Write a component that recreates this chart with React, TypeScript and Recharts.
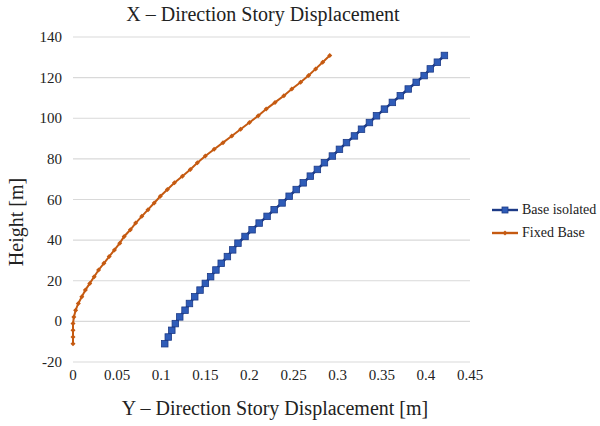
import React from "react";
import { LineChart, Line, XAxis, YAxis, CartesianGrid } from "recharts";

// story heights [m]
const HEIGHTS = [
  -11, -7.7, -4.4, -1.1, 2.2, 5.5, 8.8, 12.1, 15.4, 18.7, 22, 25.3, 28.6, 31.9, 35.2,
  38.5, 41.8, 45.1, 48.4, 51.7, 55, 58.3, 61.6, 64.9, 68.2, 71.5, 74.8, 78.1, 81.4,
  84.7, 88, 91.3, 94.6, 97.9, 101.2, 104.5, 107.8, 111.1, 114.4, 117.7, 121, 124.3,
  127.6, 130.9,
];

// displacement [m]
const BASE_ISOLATED = [
  0.104, 0.108, 0.112, 0.116, 0.121, 0.127, 0.132, 0.138, 0.144, 0.15, 0.156, 0.162,
  0.168, 0.175, 0.181, 0.187, 0.195, 0.203, 0.211, 0.22, 0.228, 0.237, 0.245, 0.253,
  0.261, 0.269, 0.277, 0.285, 0.294, 0.302, 0.31, 0.319, 0.327, 0.336, 0.344, 0.353,
  0.362, 0.371, 0.38, 0.389, 0.398, 0.405, 0.413, 0.421,
];

const FIXED_BASE = [
  0, 0, 0, 0, 0.001, 0.003, 0.006, 0.01, 0.014, 0.019, 0.024, 0.029, 0.035, 0.041,
  0.047, 0.053, 0.058, 0.065, 0.071, 0.078, 0.085, 0.092, 0.099, 0.107, 0.115, 0.124,
  0.133, 0.141, 0.15, 0.16, 0.17, 0.18, 0.19, 0.2, 0.21, 0.219, 0.229, 0.239, 0.248,
  0.258, 0.267, 0.275, 0.283, 0.291,
];

const X_TICKS = [0, 0.05, 0.1, 0.15, 0.2, 0.25, 0.3, 0.35, 0.4, 0.45];
const Y_TICKS = [-20, 0, 20, 40, 60, 80, 100, 120, 140];

const baseData = HEIGHTS.map((h, i) => ({ d: BASE_ISOLATED[i], h }));
const fixedData = HEIGHTS.map((h, i) => ({ d: FIXED_BASE[i], h }));

const FONT = "Liberation Serif";
const BLUE_LINE = "#1c3a86";
const BLUE_MARK = "#2f5cb8";
const ORANGE = "#c55a11";

const SquareDot = (p: any) => {
  if (p.cx == null || p.cy == null) return null;
  return <rect x={p.cx - 3.25} y={p.cy - 3.25} width={6.5} height={6.5} fill={BLUE_MARK} stroke={BLUE_LINE} strokeWidth={0.8} />;
};

const DiamondDot = (p: any) => {
  if (p.cx == null || p.cy == null) return null;
  const { cx, cy } = p;
  return <path d={`M${cx},${cy - 2.5}L${cx + 2.5},${cy}L${cx},${cy + 2.5}L${cx - 2.5},${cy}Z`} fill={ORANGE} />;
};

const renderXTick = (props: any) => (
  <text
    key={`x-${props.index}`}
    x={props.x}
    y={props.y + 14}
    textAnchor="middle"
    style={{ fontFamily: FONT, fontSize: 15, fill: "#222" }}
  >
    {props.payload.value}
  </text>
);

const renderYTick = (props: any) => (
  <text
    key={`y-${props.index}`}
    x={props.x}
    y={props.y + 5}
    textAnchor="end"
    style={{ fontFamily: FONT, fontSize: 15, fill: "#222" }}
  >
    {props.payload.value}
  </text>
);

const LEGEND_ITEMS = [
  { name: "Base isolated", c: BLUE_LINE, sq: true },
  { name: "Fixed Base", c: ORANGE, sq: false },
];

export default function App() {
  return (
    <div style={{ position: "absolute", left: 0, top: 0, width: 600, height: 426, background: "#fff" }}>
      <LineChart width={600} height={426} margin={{ top: 37, right: 130, bottom: 0, left: 0 }}>
        <CartesianGrid horizontal vertical={false} stroke="#d9d9d9" strokeWidth={1.2} />
        <XAxis
          type="number"
          dataKey="d"
          domain={[0, 0.45]}
          ticks={X_TICKS}
          height={64}
          axisLine={false}
          tickLine={false}
          tickSize={0}
          tickMargin={4}
          interval={0}
          tick={renderXTick}
        />
        <YAxis
          type="number"
          dataKey="h"
          domain={[-20, 140]}
          ticks={Y_TICKS}
          width={73}
          axisLine={false}
          tickLine={false}
          tickSize={0}
          tickMargin={11}
          interval={0}
          tick={renderYTick}
        />
        <Line
          data={baseData}
          dataKey="h"
          name="Base isolated"
          stroke={BLUE_LINE}
          strokeWidth={2.5}
          dot={<SquareDot />}
          isAnimationActive={false}
        />
        <Line
          data={fixedData}
          dataKey="h"
          name="Fixed Base"
          stroke={ORANGE}
          strokeWidth={2}
          dot={<DiamondDot />}
          isAnimationActive={false}
        />
      </LineChart>

      {/* legend */}
      <div style={{ position: "absolute", left: 491, top: 198, fontFamily: FONT, fontSize: 14, color: "#222" }}>
        {LEGEND_ITEMS.map((it) => (
          <div key={it.name} style={{ display: "flex", alignItems: "center", height: 23 }}>
            <svg width={28} height={10} style={{ marginRight: 3 }}>
              <line x1={1} y1={5} x2={27} y2={5} stroke={it.c} strokeWidth={2.4} />
              {it.sq ? (
                <rect x={11} y={2} width={6} height={6} fill={BLUE_MARK} stroke={BLUE_LINE} strokeWidth={0.8} />
              ) : (
                <path d="M14,2.5L16.5,5L14,7.5L11.5,5Z" fill={ORANGE} />
              )}
            </svg>
            <span>{it.name}</span>
          </div>
        ))}
      </div>

      <svg width={600} height={426} style={{ position: "absolute", left: 0, top: 0, pointerEvents: "none" }}>
        <text x={263} y={21} textAnchor="middle" style={{ fontFamily: FONT, fontSize: 20, fill: "#222" }}>
          X – Direction Story Displacement
        </text>
        <text x={275} y={415} textAnchor="middle" style={{ fontFamily: FONT, fontSize: 20, fill: "#222" }}>
          Y – Direction Story Displacement [m]
        </text>
        <text x={23} y={222} textAnchor="middle" transform="rotate(-90 23 222)" style={{ fontFamily: FONT, fontSize: 20, fill: "#222" }}>
          Height [m]
        </text>
      </svg>
    </div>
  );
}
